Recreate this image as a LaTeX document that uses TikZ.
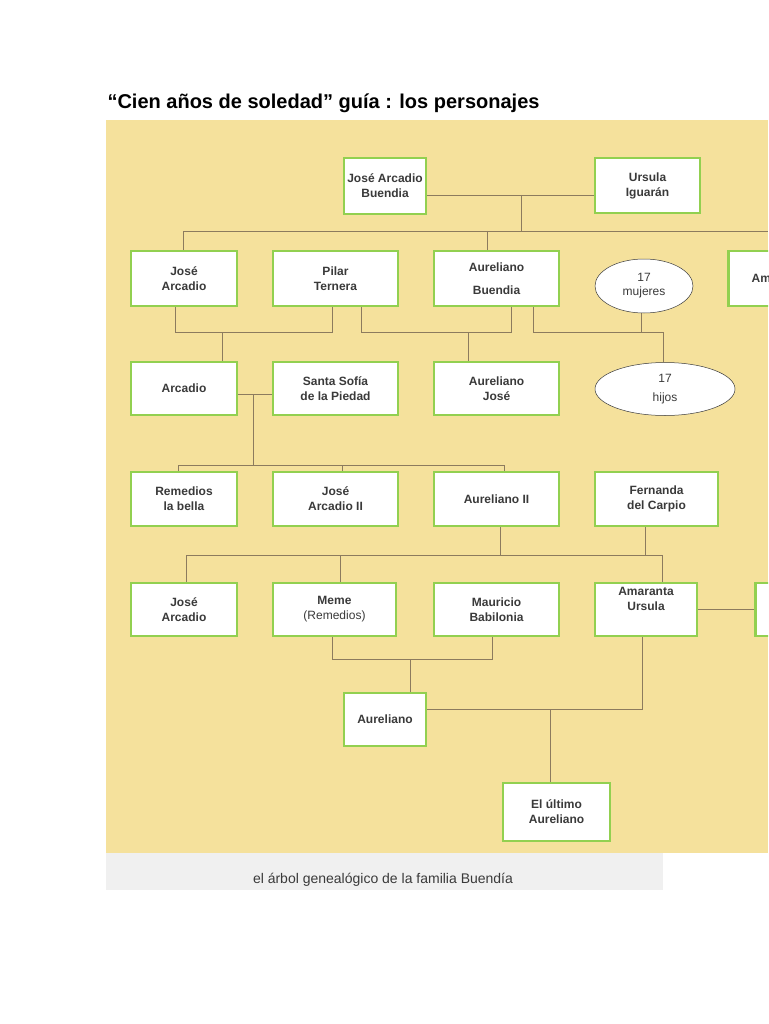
\documentclass[tikz,border=0pt]{standalone}
\usepackage{fontspec}
\setmainfont{Liberation Sans}
\usetikzlibrary{shapes.geometric}
\definecolor{bg}{HTML}{F5E19C}
\definecolor{grn}{HTML}{92D050}
\definecolor{ln}{HTML}{8C7B5E}
\definecolor{txt}{HTML}{3A3A3A}
\begin{document}
\begin{tikzpicture}[x=1pt,y=-1pt,
 box/.style={draw=grn,line width=2.5pt,fill=white,inner sep=0pt,align=center,font=\bfseries\fontsize{12}{15}\selectfont,text=txt},
 ell/.style={ellipse,draw=txt,line width=0.5pt,fill=white,inner sep=0pt,align=center,font=\fontsize{12}{14}\selectfont,text=txt},
 con/.style={draw=ln,line width=0.8pt}]
\useasboundingbox (0,0) rectangle (768,1024);
\fill[white] (0,0) rectangle (768,1024);
\fill[bg] (106,120) rectangle (768,853);
\fill[gray!12] (106,853) rectangle (663,890);
\node[anchor=west,font=\bfseries\fontsize{20}{23}\selectfont] (title) at (104,103) {“Cien años de soledad” guía : los personajes};
\node[text=txt,font=\fontsize{14}{16}\selectfont] (cap) at (383,880) {el árbol genealógico de la familia Buendía};
\begin{scope}
\clip (106,120) rectangle (768,853);
% connectors
\coordinate (c1) at (521,195); \coordinate (c2) at (521,231);
\draw[con] (426,195) -- (595,195);
\draw[con] (c1) -- (c2);
\draw[con] (183,251) -- (183,231) -- (768,231);
\draw[con] (487,231) -- (487,251);
\draw[con] (175,306) -- (175,332) -- (332,332) -- (332,306);
\draw[con] (222,332) -- (222,362);
\draw[con] (361,306) -- (361,332) -- (511,332) -- (511,306);
\draw[con] (468,332) -- (468,362);
\draw[con] (533,306) -- (533,332) -- (663,332) -- (663,362);
\draw[con] (641,313) -- (641,332);
\draw[con] (237,394) -- (273,394);
\draw[con] (253,394) -- (253,465);
\draw[con] (178,472) -- (178,465) -- (504,465) -- (504,472);
\draw[con] (342,465) -- (342,472);
\draw[con] (500,526) -- (500,555);
\draw[con] (645,526) -- (645,555);
\draw[con] (186,583) -- (186,555) -- (662,555) -- (662,583);
\draw[con] (340,555) -- (340,583);
\draw[con] (697,609) -- (754,609);
\draw[con] (332,636) -- (332,659) -- (492,659) -- (492,636);
\draw[con] (410,659) -- (410,693);
\draw[con] (426,709) -- (642,709) -- (642,636);
\draw[con] (550,709) -- (550,783);
% row 1
\node[box,minimum width=82,minimum height=56] (jab) at (385,186) {José Arcadio\\Buendia};
\node[box,minimum width=105,minimum height=55] (urs) at (647.5,185.5) {Ursula\\Iguarán};
% row 2
\node[box,minimum width=106,minimum height=55] (ja) at (184,278.5) {José\\Arcadio};
\node[box,minimum width=125,minimum height=55] (pil) at (335.5,278.5) {Pilar\\Ternera};
\node[box,minimum width=125,minimum height=55] (aub) at (496.5,278.5) {Aureliano\\[8pt]Buendia};
\node[ell,minimum width=98,minimum height=54] (muj) at (644,286) {17\\mujeres};
\node[box,minimum width=80,minimum height=55,anchor=west] (am) at (727,278.5) {\hspace*{-14pt}Am};
% row 3
\node[box,minimum width=106,minimum height=53] (arc) at (184,388.5) {Arcadio};
\node[box,minimum width=125,minimum height=53] (ssp) at (335.5,388.5) {Santa Sofía\\de la Piedad};
\node[box,minimum width=125,minimum height=53] (auj) at (496.5,388.5) {Aureliano\\José};
\node[ell,minimum width=140,minimum height=53] (hij) at (665,389) {17\\[5pt]hijos};
% row 4
\node[box,minimum width=106,minimum height=54] (rem) at (184,499) {Remedios\\la bella};
\node[box,minimum width=125,minimum height=54] (ja2) at (335.5,499) {José\\Arcadio II};
\node[box,minimum width=125,minimum height=54] (au2) at (496.5,499) {Aureliano II};
\node[box,minimum width=123,minimum height=54] (fer) at (656.5,499) {Fernanda\\del Carpio};
% row 5
\node[box,minimum width=106,minimum height=53] (ja3) at (184,609.5) {José\\Arcadio};
\node[box,minimum width=123,minimum height=53] (mem) at (334.5,609.5) {Meme\\{\mdseries(Remedios)}};
\node[box,minimum width=125,minimum height=53] (mau) at (496.5,609.5) {Mauricio\\Babilonia};
\node[box,minimum width=102,minimum height=53] (ama) at (646,609.5) {Amaranta\\Ursula\\[6pt]};
\node[box,minimum width=40,minimum height=53,anchor=west] (gas) at (754,609.5) {};
% row 6
\node[box,minimum width=82,minimum height=53] (aur) at (385,719.5) {Aureliano};
\node[box,minimum width=107,minimum height=58] (ult) at (556.5,812) {El último\\Aureliano};
\end{scope}
\end{tikzpicture}
\end{document}
